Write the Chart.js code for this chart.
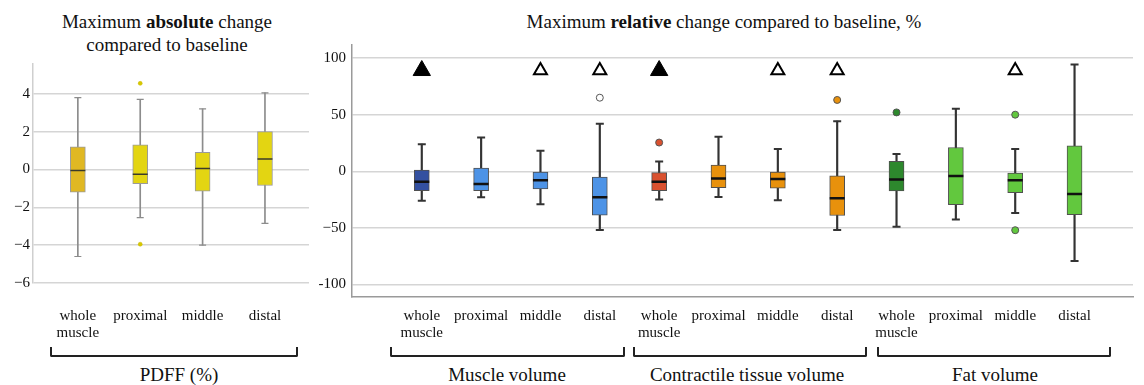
<!DOCTYPE html>
<html>
<head>
<meta charset="utf-8">
<script src="https://cdn.jsdelivr.net/npm/chart.js@4.4.0/dist/chart.umd.min.js"></script>
<style>
  body { margin: 0; background: #fff; font-family: "Liberation Serif", serif; color: #111; }
  #page { position: relative; width: 1144px; height: 385px; overflow: hidden; }
  .wrap { position: absolute; }
  .title { position: absolute; text-align: center; font-size: 19px; line-height: 23px; white-space: nowrap; }
  .grp { position: absolute; top: 364px; font-size: 19px; line-height: 22px; white-space: nowrap; transform: translateX(-50%); }
  .br { position: absolute; top: 347px; height: 8px; border: 2px solid #222; border-top: none; border-radius: 0 0 2px 2px; }
</style>
</head>
<body>
<div id="page">
  <div class="title" style="left:0;top:10px;width:334px">Maximum <b>absolute</b> change<br>compared to baseline</div>
  <div class="title" style="left:424px;top:10px;width:600px">Maximum <b>relative</b> change compared to baseline, %</div>

  <div class="wrap" style="left:0;top:52px;width:318px;height:290px"><canvas id="pdff"></canvas></div>
  <div class="wrap" style="left:300px;top:30px;width:844px;height:312px"><canvas id="rel"></canvas></div>

  <div class="br" style="left:50px;width:244px"></div>
  <div class="br" style="left:390px;width:231px"></div>
  <div class="br" style="left:633px;width:230px"></div>
  <div class="br" style="left:877px;width:230px"></div>

  <div class="grp" style="left:179px">PDFF (%)</div>
  <div class="grp" style="left:507px">Muscle volume</div>
  <div class="grp" style="left:747px">Contractile tissue volume</div>
  <div class="grp" style="left:995px">Fat volume</div>
</div>

<script>
// ---- PDFF, absolute change ----
const pdffCats = [['whole', 'muscle'], 'proximal', 'middle', 'distal'];
const pdffMin = [-4.6, -2.55, -4.0, -2.85];
const pdffQ1  = [-1.2, -0.75, -1.15, -0.85];
const pdffMed = [-0.05, -0.25, 0.05, 0.55];
const pdffQ3  = [1.2, 1.3, 0.9, 2.0];
const pdffMax = [3.8, 3.7, 3.2, 4.05];
const pdffOutCat = [1, 1];
const pdffOutVal = [4.55, -3.95];
const pdffTicks = [-6, -4, -2, 0, 2, 4];

// ---- volumes, relative change (%) ----
const relCats = [
  ['whole', 'muscle'], 'proximal', 'middle', 'distal',
  ['whole', 'muscle'], 'proximal', 'middle', 'distal',
  ['whole', 'muscle'], 'proximal', 'middle', 'distal'
];
const relMin = [-26, -23, -29, -51.8, -25, -22.6, -25.5, -51.8, -49, -42.6, -36.8, -79.3];
const relQ1  = [-17, -17, -15.6, -38.8, -17, -14.5, -15, -39, -17.4, -29.5, -18.8, -38.2];
const relMed = [-9.3, -11.3, -7.8, -23, -9.3, -6.4, -6.7, -23.8, -7.3, -4.1, -7.8, -20];
const relQ3  = [1, 2.9, 0, -5, -1.2, 5.5, 0, -4, 8.9, 21, -1.5, 22.6];
const relMax = [24, 29.8, 18.2, 42, 8.7, 30.6, 19.6, 44.3, 15.3, 55.2, 19.6, 94.3];
const relOutCat = [3, 4, 7, 8, 10, 10];
const relOutVal = [65, 25.4, 63, 52, 50, -52];
const sigStrong = [0, 4];          // filled triangles
const sigWeak = [2, 3, 6, 7, 10];  // open triangles
const sigLevel = 89;
const relTicks = [-100, -50, 0, 50, 100];

const pdffColors = ['#e0b823', '#e3d512', '#e3d512', '#e3d512'];
const relColors = ['#3350a0', '#4d93e6', '#4d93e6', '#4d93e6',
                   '#d9512f', '#e8910c', '#e8910c', '#e8910c',
                   '#2d882d', '#62c83e', '#62c83e', '#62c83e'];
const relOutFill = ['#ffffff', '#d9512f', '#e8910c', '#2d882d', '#62c83e', '#62c83e'];

const serif = { family: '"Liberation Serif", "Times New Roman", serif', size: 15, lineHeight: 1.13 };

function boxChart(id, o) {
  const idx = o.cats.map((_, i) => i);
  const datasets = [
    // medians
    { type: 'scatter', data: idx.map(i => ({ x: i, y: o.med[i] })), pointStyle: 'line',
      pointRadius: 7.5, pointHoverRadius: 7.5, borderColor: o.medColor, borderWidth: o.medWidth, order: 0 },
    // whisker caps
    { type: 'scatter', data: idx.flatMap(i => [{ x: i, y: o.min[i] }, { x: i, y: o.max[i] }]), pointStyle: 'line',
      pointRadius: o.capR, pointHoverRadius: o.capR, borderColor: o.whisk, borderWidth: o.capW, order: 1 },
    // outliers
    { type: 'scatter', data: o.outCat.map((c, k) => ({ x: c, y: o.outVal[k] })),
      pointRadius: o.outR, pointHoverRadius: o.outR, backgroundColor: o.outFill,
      borderColor: o.outBorder, borderWidth: o.outBW, order: 1 },
    // boxes
    { type: 'bar', data: idx.map(i => ({ x: i, y: [o.q1[i], o.q3[i]] })), backgroundColor: o.colors,
      borderColor: o.boxBorder, borderWidth: 1, borderSkipped: false, barThickness: 15, grouped: false, order: 2 },
    // whiskers
    { type: 'bar', data: idx.map(i => ({ x: i, y: [o.min[i], o.max[i]] })), backgroundColor: o.whisk,
      barThickness: o.whiskW, grouped: false, order: 3 }
  ];
  if (o.strong) {
    datasets.push(
      { type: 'scatter', data: o.strong.map(c => ({ x: c, y: o.sigY })), pointStyle: 'triangle',
        pointRadius: 10, pointHoverRadius: 10, backgroundColor: '#000', borderColor: '#000', borderWidth: 1, order: 0 },
      { type: 'scatter', data: o.weak.map(c => ({ x: c, y: o.sigY })), pointStyle: 'triangle',
        pointRadius: 7.5, pointHoverRadius: 7.5, backgroundColor: '#fff', borderColor: '#000', borderWidth: 2, order: 0 }
    );
  }

  return new Chart(document.getElementById(id), {
    type: 'bar',
    data: { datasets },
    options: {
      responsive: true,
      maintainAspectRatio: false,
      animation: false,
      events: [],
      layout: { padding: o.pad },
      plugins: { legend: { display: false }, tooltip: { enabled: false } },
      scales: {
        x: {
          type: 'linear', min: o.xMin, max: o.xMax, offset: false,
          grid: { display: false, drawTicks: false },
          border: { display: o.xBorder, color: '#9a9a9a', width: 1.5 },
          afterBuildTicks: s => { s.ticks = idx.map(i => ({ value: i })); },
          afterFit: s => { s.height = o.xAxisH; },
          ticks: { autoSkip: false, maxRotation: 0, minRotation: 0, padding: o.xPad, color: '#111', font: serif,
                   callback: v => o.cats[v] }
        },
        y: {
          min: o.yMin, max: o.yMax,
          grid: { color: '#d5d5d5', lineWidth: 1.5, drawTicks: false },
          border: { color: o.yBorder, width: 1.5 },
          afterBuildTicks: s => { s.ticks = o.ticks.map(v => ({ value: v })); },
          afterFit: s => { s.width = o.yAxisW; },
          ticks: { padding: o.yPad, color: '#111', font: serif, callback: o.fmt }
        }
      }
    }
  });
}

boxChart('pdff', {
  cats: pdffCats, min: pdffMin, q1: pdffQ1, med: pdffMed, q3: pdffQ3, max: pdffMax,
  outCat: pdffOutCat, outVal: pdffOutVal, ticks: pdffTicks,
  colors: pdffColors, boxBorder: '#9a9a9a', whisk: '#8c8c8c', whiskW: 1, capR: 3.5, capW: 1.2,
  medColor: '#3a3a2a', medWidth: 1.5,
  outR: 2, outFill: '#d8c800', outBorder: '#c9b800', outBW: 0.5,
  xMin: -0.719, xMax: 3.706, yMin: -6, yMax: 5.6,
  pad: { top: 10, right: 8, left: 0, bottom: 0 },
  xAxisH: 59, xPad: 24.5, xBorder: false, yAxisW: 33, yPad: 3, yBorder: '#cfcfcf',
  fmt: v => String(v).replace('-', '\u2212')
});

boxChart('rel', {
  cats: relCats, min: relMin, q1: relQ1, med: relMed, q3: relQ3, max: relMax,
  outCat: relOutCat, outVal: relOutVal, ticks: relTicks,
  colors: relColors, boxBorder: '#505050', whisk: '#333', whiskW: 1.5, capR: 4, capW: 2,
  medColor: '#111', medWidth: 2.5,
  outR: 3.5, outFill: relOutFill, outBorder: '#555', outBW: 1,
  strong: sigStrong, weak: sigWeak, sigY: sigLevel,
  xMin: -1.176, xMax: 11.985, yMin: -111, yMax: 112,
  pad: { top: 10, right: 1, left: 0, bottom: 0 },
  xAxisH: 45, xPad: 10.5, xBorder: true, yAxisW: 52, yPad: 6, yBorder: '#9a9a9a',
  fmt: v => v === -100 ? '-100' : String(v).replace('-', '\u2212')
});
</script>
</body>
</html>
